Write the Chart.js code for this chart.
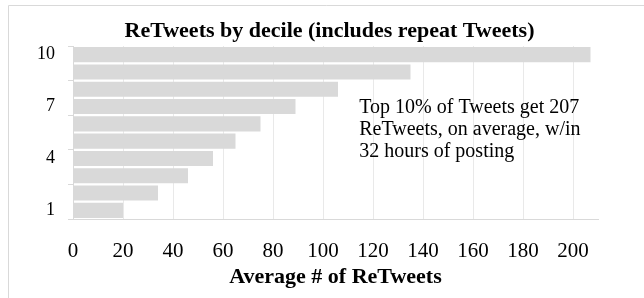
<!DOCTYPE html>
<html>
<head>
<meta charset="utf-8">
<script src="https://cdn.jsdelivr.net/npm/chart.js@4/dist/chart.umd.min.js"></script>
<style>
  html, body { margin: 0; padding: 0; background: #fff; }
  #wrap { width: 644px; height: 298px; position: relative; }
</style>
</head>
<body>
<div id="wrap"><canvas id="chart" width="644" height="298"></canvas></div>
<script>
// deciles, bottom (1) to top (10)
const deciles = ["1", "2", "3", "4", "5", "6", "7", "8", "9", "10"];
const avgRetweets = [20, 34, 46, 56, 65, 75, 89, 106, 135, 207];
// only every third decile gets a label on the axis
const shownDecileLabels = ["1", "4", "7", "10"];
const xTicks = [0, 20, 40, 60, 80, 100, 120, 140, 160, 180, 200];
const chartTitle = "ReTweets by decile (includes repeat Tweets)";
const noteLines = [
    "Top 10% of Tweets get 207",
    "ReTweets, on average, w/in",
    "32 hours of posting"
];

const serif = "'Liberation Serif', 'Times New Roman', serif";

// outer chart frame (only left and top edges fall inside the picture) + title
const framePlugin = {
    id: "frame",
    beforeDraw(chart) {
        const ctx = chart.ctx;
        ctx.save();
        ctx.strokeStyle = "#d9d9d9";
        ctx.lineWidth = 1;
        ctx.beginPath();
        ctx.moveTo(8.5, chart.height);
        ctx.lineTo(8.5, 5.5);
        ctx.lineTo(chart.width, 5.5);
        ctx.stroke();

        // the title sits a bit right of the canvas centre, like the original
        ctx.font = "bold 22px " + serif;
        ctx.fillStyle = "#000";
        ctx.textAlign = "center";
        ctx.textBaseline = "alphabetic";
        ctx.fillText(chartTitle, 329.5, 37);
        ctx.restore();
    }
};

// text box inside the plot
const notePlugin = {
    id: "note",
    afterDatasetsDraw(chart) {
        const ctx = chart.ctx;
        const x = chart.scales.x.getPixelForValue(114.5);
        const top = chart.chartArea.top;
        ctx.save();
        ctx.font = "20px " + serif;
        ctx.fillStyle = "#000";
        ctx.textBaseline = "alphabetic";
        noteLines.forEach((line, i) => {
            ctx.fillText(line, x, top + 67 + i * 22);
        });
        ctx.restore();
    }
};

new Chart(document.getElementById("chart"), {
    type: "bar",
    data: {
        labels: deciles,
        datasets: [{
            data: avgRetweets,
            backgroundColor: "#d9d9d9",
            borderWidth: 0,
            barPercentage: 0.87,
            categoryPercentage: 1
        }]
    },
    options: {
        indexAxis: "y",
        responsive: false,
        animation: false,
        layout: { padding: { left: 0, right: 46, top: 46, bottom: 0 } },
        plugins: {
            legend: { display: false },
            tooltip: { enabled: false },
            title: { display: false }
        },
        scales: {
            x: {
                min: 0,
                max: 210,
                afterBuildTicks: scale => {
                    scale.ticks = xTicks.map(v => ({ value: v }));
                },
                afterFit: scale => { scale.height = 79; },
                grid: { color: "#e9e9e9", drawTicks: false },
                border: { color: "#d9d9d9" },
                ticks: {
                    color: "#000",
                    padding: 20,
                    maxRotation: 0,
                    font: { family: serif, size: 21 }
                },
                title: {
                    display: true,
                    text: "Average # of ReTweets",
                    color: "#000",
                    padding: { top: 0, bottom: 7 },
                    font: { family: serif, size: 22, weight: "bold" }
                }
            },
            y: {
                reverse: true,
                afterFit: scale => { scale.width = 73; },
                grid: {
                    drawOnChartArea: false,
                    tickLength: 5,
                    tickColor: c => (c.index === undefined || c.index % 2 === 0) ? "#d9d9d9" : "rgba(0,0,0,0)"
                },
                border: { color: "#d9d9d9" },
                ticks: {
                    autoSkip: false,
                    color: "#000",
                    padding: 13,
                    font: { family: serif, size: 18 },
                    callback: function (value) {
                        const lbl = this.getLabelForValue(value);
                        return shownDecileLabels.includes(lbl) ? lbl : "";
                    }
                }
            }
        }
    },
    plugins: [framePlugin, notePlugin]
});
</script>
</body>
</html>
